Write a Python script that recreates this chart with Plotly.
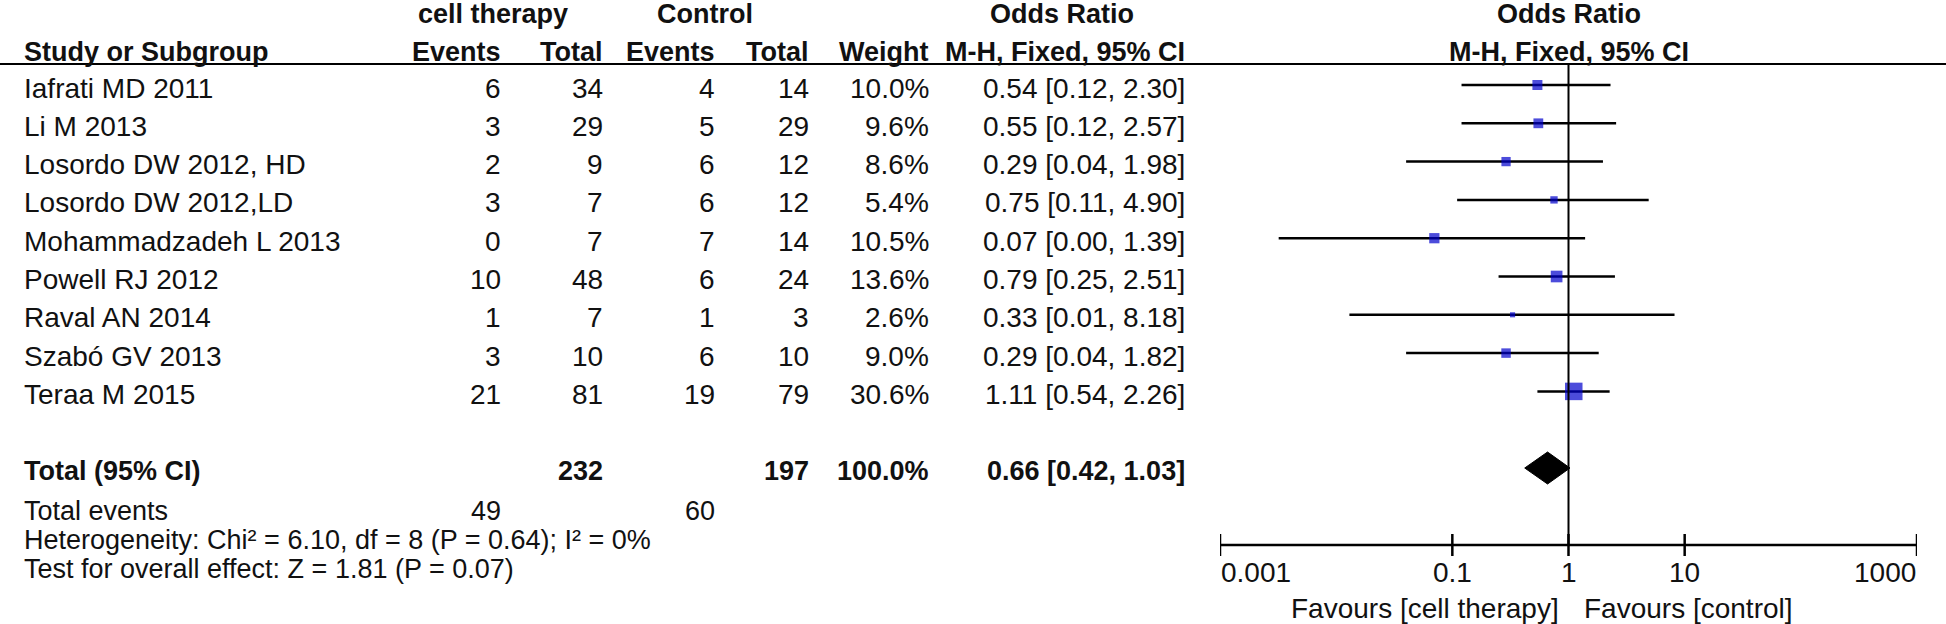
import math
import plotly.graph_objects as go

W, H = 1946, 624

# ---------------- data ----------------
studies = ["Iafrati MD 2011", "Li M 2013", "Losordo DW 2012, HD", "Losordo DW 2012,LD",
           "Mohammadzadeh L 2013", "Powell RJ 2012", "Raval AN 2014", "Szabó GV 2013", "Teraa M 2015"]
ct_events = [6, 3, 2, 3, 0, 10, 1, 3, 21]
ct_total = [34, 29, 9, 7, 7, 48, 7, 10, 81]
ctrl_events = [4, 5, 6, 6, 7, 6, 1, 6, 19]
ctrl_total = [14, 29, 12, 12, 14, 24, 3, 10, 79]
weights = [10.0, 9.6, 8.6, 5.4, 10.5, 13.6, 2.6, 9.0, 30.6]
or_est = [0.54, 0.55, 0.29, 0.75, 0.07, 0.79, 0.33, 0.29, 1.11]
ci_lo = [0.12, 0.12, 0.04, 0.11, 0.0032, 0.25, 0.013, 0.04, 0.54]
ci_hi = [2.30, 2.57, 1.98, 4.90, 1.39, 2.51, 8.18, 1.82, 2.26]
or_text = ["0.54 [0.12, 2.30]", "0.55 [0.12, 2.57]", "0.29 [0.04, 1.98]", "0.75 [0.11, 4.90]",
           "0.07 [0.00, 1.39]", "0.79 [0.25, 2.51]", "0.33 [0.01, 8.18]", "0.29 [0.04, 1.82]",
           "1.11 [0.54, 2.26]"]
total_or = 0.66
total_lo = 0.42
total_hi = 1.03
total_weight = 100.0
total_ct = 232
total_ctrl = 197
total_ev_ct = 49
total_ev_ctrl = 60
tick_vals = [0.001, 0.1, 1, 10, 1000]
tick_text = ["0.001", "0.1", "1", "10", "1000"]

# ---------------- layout helpers ----------------
ROW0, ROWH = 85.0, 38.3


def py2row(py):
    return (py - ROW0) / ROWH


def px2paper(px):
    return px / W


def py2paper(py):
    return 1 - py / H


FONT = "Liberation Sans, Arial, sans-serif"
FS = 28      # regular text
FSB = 27     # bold text
FSF = 27     # footer lines
TXT = "#111111"

fig = go.Figure()

# CI lines
xs, ys = [], []
for i in range(len(studies)):
    xs += [ci_lo[i], ci_hi[i], None]
    ys += [i, i, None]
fig.add_trace(go.Scatter(x=xs, y=ys, mode="lines", line=dict(color="black", width=2.5),
                         hoverinfo="skip", showlegend=False))

# squares (area proportional to weight)
sizes = [10 * (w / 10.0) ** 0.5 for w in weights]
fig.add_trace(go.Scatter(x=or_est, y=list(range(len(studies))), mode="markers",
                         marker=dict(symbol="square", size=sizes, color="#0000cc",
                                     line=dict(width=0)),
                         hoverinfo="skip", showlegend=False))

# diamond
TOT_ROW = 10
dh = 16 / ROWH
fig.add_trace(go.Scatter(x=[total_lo, total_or, total_hi, total_or, total_lo],
                         y=[TOT_ROW, TOT_ROW - dh, TOT_ROW, TOT_ROW + dh, TOT_ROW],
                         mode="lines", fill="toself", fillcolor="black",
                         line=dict(color="black", width=1), hoverinfo="skip", showlegend=False))

AX_ROW = py2row(545)
shapes = []
# header rule
shapes.append(dict(type="line", xref="paper", yref="paper", x0=0, x1=1,
                   y0=py2paper(64), y1=py2paper(64), line=dict(color="black", width=2)))
# line of no effect
shapes.append(dict(type="line", xref="x", yref="y", x0=1, x1=1, y0=py2row(64), y1=AX_ROW,
                   line=dict(color="black", width=2)))
# axis line
shapes.append(dict(type="line", xref="x", yref="y", x0=tick_vals[0], x1=tick_vals[-1],
                   y0=AX_ROW, y1=AX_ROW, line=dict(color="black", width=2.5)))
tk = 11 / ROWH
for t in tick_vals:
    shapes.append(dict(type="line", xref="x", yref="y", x0=t, x1=t, y0=AX_ROW - tk, y1=AX_ROW + tk,
                       line=dict(color="black", width=2.5)))

ann = []


def add(text, x, y, anchor="right", bold=False, xref="paper", yref="paper", xshift=0, yshift=0,
        size=None):
    if size is None:
        size = FSB if bold else FS
    ann.append(dict(text=("<b>%s</b>" % text) if bold else text, x=x, y=y, xref=xref, yref=yref,
                    xanchor=anchor, yanchor="middle", showarrow=False, xshift=xshift, yshift=yshift,
                    borderpad=0, font=dict(family=FONT, size=size, color=TXT)))


# column right edges (px)
C_EV1, C_TOT1, C_EV2, C_TOT2, C_W, C_OR = 502, 604, 716, 810, 930, 1186
C_STUDY = 23
RS = -3  # text sits slightly below the marker centre

# headers
y1, y2 = py2paper(14), py2paper(52)
add("cell therapy", px2paper(493), y1, "center", True)
add("Control", px2paper(705), y1, "center", True)
add("Odds Ratio", px2paper(1062), y1, "center", True)
add("Odds Ratio", math.log10(1), y1, "center", True, xref="x")
add("Study or Subgroup", px2paper(C_STUDY), y2, "left", True)
add("Events", px2paper(C_EV1), y2, "right", True)
add("Total", px2paper(C_TOT1), y2, "right", True)
add("Events", px2paper(C_EV2), y2, "right", True)
add("Total", px2paper(C_TOT2), y2, "right", True)
add("Weight", px2paper(C_W), y2, "right", True)
add("M-H, Fixed, 95% CI", px2paper(C_OR), y2, "right", True)
add("M-H, Fixed, 95% CI", math.log10(1), y2, "center", True, xref="x")

# study rows
for i, s in enumerate(studies):
    add(s, px2paper(C_STUDY), i, "left", yref="y", yshift=RS)
    add(str(ct_events[i]), px2paper(C_EV1), i, yref="y", yshift=RS)
    add(str(ct_total[i]), px2paper(C_TOT1), i, yref="y", yshift=RS)
    add(str(ctrl_events[i]), px2paper(C_EV2), i, yref="y", yshift=RS)
    add(str(ctrl_total[i]), px2paper(C_TOT2), i, yref="y", yshift=RS)
    add("%.1f%%" % weights[i], px2paper(C_W), i, yref="y", yshift=RS)
    add(or_text[i], px2paper(C_OR), i, yref="y", yshift=RS)

# total row
add("Total (95% CI)", px2paper(C_STUDY), TOT_ROW, "left", True, yref="y", yshift=RS)
add(str(total_ct), px2paper(C_TOT1), TOT_ROW, "right", True, yref="y", yshift=RS)
add(str(total_ctrl), px2paper(C_TOT2), TOT_ROW, "right", True, yref="y", yshift=RS)
add("%.1f%%" % total_weight, px2paper(C_W), TOT_ROW, "right", True, yref="y", yshift=RS)
add("%.2f [%.2f, %.2f]" % (total_or, total_lo, total_hi), px2paper(C_OR), TOT_ROW, "right", True,
    yref="y", yshift=RS)

# footer lines
add("Total events", px2paper(C_STUDY), py2paper(511), "left", size=FSF)
add(str(total_ev_ct), px2paper(C_EV1), py2paper(511), size=FSF)
add(str(total_ev_ctrl), px2paper(C_EV2), py2paper(511), size=FSF)
add("Heterogeneity: Chi² = 6.10, df = 8 (P = 0.64); I² = 0%", px2paper(C_STUDY), py2paper(540),
    "left", size=FSF)
add("Test for overall effect: Z = 1.81 (P = 0.07)", px2paper(C_STUDY), py2paper(569), "left", size=FSF)

# tick labels (annotations on a log axis take log10 positions)
for j, (v, t) in enumerate(zip(tick_vals, tick_text)):
    anc = "left" if j == 0 else ("right" if j == len(tick_vals) - 1 else "center")
    add(t, math.log10(v), py2paper(572), anc, xref="x")
add("Favours [cell therapy]", math.log10(1), py2paper(608), "right", xref="x", xshift=-9)
add("Favours [control]", math.log10(1), py2paper(608), "left", xref="x", xshift=14)

fig.update_layout(
    width=W, height=H, margin=dict(l=0, r=0, t=0, b=0),
    paper_bgcolor="white", plot_bgcolor="white",
    xaxis=dict(type="log", range=[-3, 3], domain=[1220 / W, 1917 / W], visible=False, fixedrange=True),
    yaxis=dict(range=[py2row(H), py2row(0)], domain=[0, 1], visible=False, fixedrange=True),
    shapes=shapes, annotations=ann, showlegend=False,
)

fig.write_html("out.html", config={"displayModeBar": False},
               post_script="document.body.style.margin='0';document.body.style.overflow='hidden';")
